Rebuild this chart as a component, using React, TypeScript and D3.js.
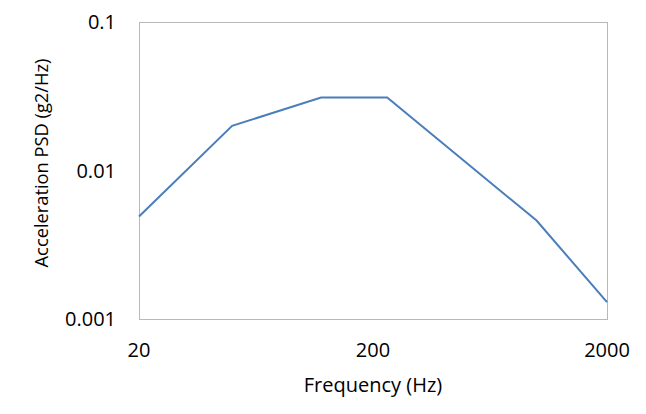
import React from "react";
import * as d3 from "d3";

const frequencies = [20, 50, 120, 230, 1000, 2000];
const psdValues = [0.0049, 0.02, 0.031, 0.031, 0.0046, 0.0013];
const xTicks = [20, 200, 2000];
const xTickLabels = ["20", "200", "2000"];
const yTicks = [0.001, 0.01, 0.1];
const yTickLabels = ["0.001", "0.01", "0.1"];

const W = 646;
const H = 414;
const m = { left: 139, right: 39, top: 22, bottom: 95 };
const FONT = "'Open Sans', sans-serif";

export default function App() {
  const x = d3.scaleLog().domain([20, 2000]).range([m.left, W - m.right]);
  const y = d3.scaleLog().domain([0.001, 0.1]).range([H - m.bottom, m.top]);
  const data = frequencies.map((f, i) => [f, psdValues[i]] as [number, number]);
  const line = d3
    .line<[number, number]>()
    .x((d) => x(d[0]))
    .y((d) => y(d[1]));

  return (
    <svg
      width={W}
      height={H}
      style={{ position: "absolute", left: 0, top: 0, background: "#fff" }}
    >
      <rect
        x={m.left + 0.5}
        y={m.top + 0.5}
        width={W - m.left - m.right}
        height={H - m.top - m.bottom}
        fill="none"
        stroke="#b8b8b8"
        strokeWidth={1}
      />
      <path d={line(data) || ""} fill="none" stroke="#4a7ebb" strokeWidth={2} />
      {yTicks.map((t, i) => (
        <text
          key={"y" + i}
          x={116}
          y={y(t)}
          dy="0.35em"
          textAnchor="end"
          fontFamily={FONT}
          fontSize={20}
          fill="#000"
        >
          {yTickLabels[i]}
        </text>
      ))}
      {xTicks.map((t, i) => (
        <text
          key={"x" + i}
          x={x(t)}
          y={357}
          textAnchor="middle"
          fontFamily={FONT}
          fontSize={20}
          fill="#000"
        >
          {xTickLabels[i]}
        </text>
      ))}
      <text
        x={(m.left + W - m.right) / 2}
        y={392}
        textAnchor="middle"
        fontFamily={FONT}
        fontSize={20}
        fill="#000"
      >
        Frequency (Hz)
      </text>
      <text
        transform={`translate(48, ${163}) rotate(-90)`}
        textAnchor="middle"
        fontFamily={FONT}
        fontSize={18.3}
        fill="#000"
      >
        Acceleration PSD (g2/Hz)
      </text>
    </svg>
  );
}
